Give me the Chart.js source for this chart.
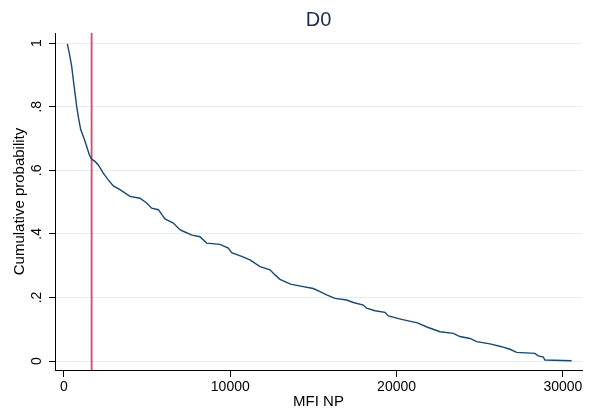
<!DOCTYPE html>
<html>
<head>
<meta charset="utf-8">
<script src="https://cdn.jsdelivr.net/npm/chart.js@4"></script>
<style>
  html, body { margin: 0; padding: 0; background: #fff; }
  #wrap { width: 590px; height: 415px; }
</style>
</head>
<body>
<div id="wrap"><canvas id="cdfChart" width="590" height="415"></canvas></div>
<script>
// values
const mfiNP = [198, 319, 463, 559, 661, 763, 860, 1004, 1203, 1365, 1521, 1666, 1864, 2063, 2363, 2664, 2965, 3367, 3969, 4570,
  4971, 5273, 5674, 6073, 6572, 6976, 7130, 7699, 8178, 8579, 9380, 9880, 10081, 10684, 11185, 11786, 12388, 12688, 12988, 13622,
  14305, 14989, 15393, 15794, 16296, 16998, 17399, 17999, 18200, 18701, 19302, 19502, 20304, 20569, 21253, 21822, 22609, 23409, 23810, 24411,
  24815, 25615, 26317, 26818, 27221, 28322, 28522, 28822, 28922, 30528];
const cumProb = [0.998, 0.969, 0.927, 0.885, 0.843, 0.801, 0.769, 0.728, 0.701, 0.675, 0.649, 0.635, 0.628, 0.617, 0.591, 0.570, 0.551, 0.539, 0.518, 0.512,
  0.497, 0.481, 0.476, 0.447, 0.434, 0.413, 0.409, 0.396, 0.391, 0.371, 0.367, 0.355, 0.341, 0.329, 0.318, 0.297, 0.287, 0.271, 0.257, 0.242,
  0.235, 0.228, 0.218, 0.208, 0.197, 0.192, 0.184, 0.176, 0.166, 0.158, 0.153, 0.142, 0.131, 0.128, 0.120, 0.107, 0.092, 0.087, 0.077, 0.071,
  0.061, 0.054, 0.045, 0.037, 0.027, 0.024, 0.016, 0.012, 0.003, 0.001];
const cutoff = 1660;

const xTicks = [0, 10000, 20000, 30000];
const yTicks = [0, 0.2, 0.4, 0.6, 0.8, 1];
const yTickLabels = ['0', '.2', '.4', '.6', '.8', '1'];

const X_MIN = -541, X_MAX = 31150;
const Y_MIN = -0.0283, Y_MAX = 1.032;

const FONT = '"Liberation Sans", Arial, Helvetica, sans-serif';

const curvePoints = mfiNP.map((x, i) => ({ x: x, y: cumProb[i] }));
const cutoffPoints = [{ x: cutoff, y: Y_MIN }, { x: cutoff, y: Y_MAX }];

// y tick labels are turned on their side, like Stata does
const rotatedYLabels = {
  id: 'rotatedYLabels',
  afterDraw(chart) {
    const ctx = chart.ctx;
    const ys = chart.scales.y;
    ctx.save();
    ctx.font = '14px ' + FONT;
    ctx.fillStyle = '#000';
    ctx.textAlign = 'center';
    ctx.textBaseline = 'middle';
    yTicks.forEach((v, i) => {
      ctx.save();
      ctx.translate(37.5, ys.getPixelForValue(v));
      ctx.rotate(-Math.PI / 2);
      ctx.fillText(yTickLabels[i], 0, 0);
      ctx.restore();
    });
    ctx.restore();
  }
};

new Chart(document.getElementById('cdfChart'), {
  type: 'scatter',
  data: {
    datasets: [
      {
        label: 'D0',
        data: curvePoints,
        showLine: true,
        borderColor: '#1a476f',
        borderWidth: 1.4,
        pointRadius: 0,
        tension: 0,
      },
      {
        label: 'cutoff',
        data: cutoffPoints,
        showLine: true,
        borderColor: '#d9486c',
        borderWidth: 1.8,
        pointRadius: 0,
      },
    ],
  },
  options: {
    responsive: false,
    animation: false,
    events: [],
    layout: { padding: { top: 0, right: 8, left: 0, bottom: 0 } },
    plugins: {
      legend: { display: false },
      tooltip: { enabled: false },
      title: {
        display: true,
        text: 'D0',
        fullSize: false,
        color: '#1e2d52',
        font: { family: FONT, size: 20, weight: 'normal', lineHeight: 1.2 },
        padding: { top: 8, bottom: 1 },
      },
    },
    scales: {
      x: {
        type: 'linear',
        min: X_MIN,
        max: X_MAX,
        afterBuildTicks: (scale) => { scale.ticks = xTicks.map(v => ({ value: v })); },
        afterFit: (scale) => { scale.height = 45; },
        grid: { drawOnChartArea: false, drawTicks: true, tickLength: 7, tickColor: '#000' },
        border: { display: true, color: '#000', width: 1 },
        ticks: {
          color: '#000',
          font: { family: FONT, size: 14 },
          padding: 2,
          maxRotation: 0,
          callback: (v) => String(v),
        },
        title: {
          display: true,
          text: 'MFI NP',
          color: '#000',
          font: { family: FONT, size: 15 },
          padding: { top: 0, bottom: 4 },
        },
      },
      y: {
        type: 'linear',
        min: Y_MIN,
        max: Y_MAX,
        afterBuildTicks: (scale) => { scale.ticks = yTicks.map(v => ({ value: v })); },
        afterFit: (scale) => { scale.width = 55; },
        grid: { color: '#e4eef0', lineWidth: 1, drawTicks: true, tickLength: 6, tickColor: '#000' },
        border: { display: true, color: '#000', width: 1 },
        ticks: { display: false },
        title: {
          display: true,
          text: 'Cumulative probability',
          color: '#000',
          font: { family: FONT, size: 15 },
          padding: { top: 11, bottom: 0 },
        },
      },
    },
  },
  plugins: [rotatedYLabels],
});
</script>
</body>
</html>
